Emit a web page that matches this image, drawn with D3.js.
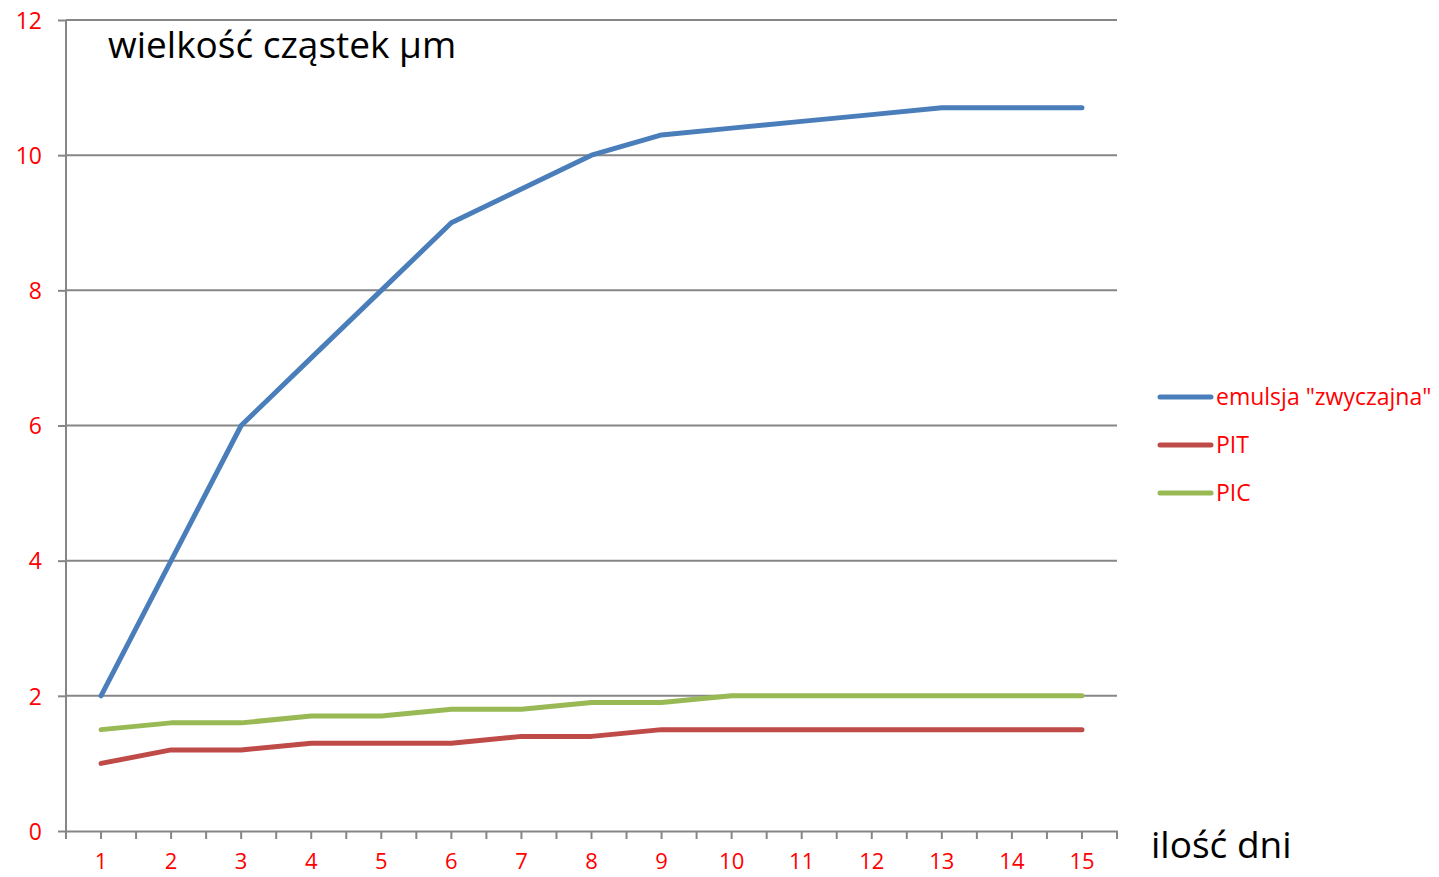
<!DOCTYPE html>
<html><head><meta charset="utf-8">
<script src="https://cdn.jsdelivr.net/npm/d3@7/dist/d3.min.js"></script>
<style>
html,body{margin:0;padding:0;background:#fff;}
svg{display:block;font-family:"Open Sans","Noto Sans",sans-serif;}
</style></head>
<body>
<svg id="chart" width="1439" height="877"></svg>
<script>
const days = ["1","2","3","4","5","6","7","8","9","10","11","12","13","14","15"];
const emulsja = [2,4,6,7,8,9,9.5,10,10.3,10.4,10.5,10.6,10.7,10.7,10.7];
const pit = [1,1.2,1.2,1.3,1.3,1.3,1.4,1.4,1.5,1.5,1.5,1.5,1.5,1.5,1.5];
const pic = [1.5,1.6,1.6,1.7,1.7,1.8,1.8,1.9,1.9,2,2,2,2,2,2];
const yTicks = [0,2,4,6,8,10,12];
const seriesNames = ['emulsja "zwyczajna"', "PIT", "PIC"];
const seriesColors = ["#4A7EBB", "#BE4B48", "#98B954"];
const yTitle = "wielkość cząstek µm";
const xTitle = "ilość dni";

const series = [emulsja, pit, pic].map((v,i)=>({name:seriesNames[i], color:seriesColors[i], values:v}));

const svg = d3.select("#chart");
const L=66, R=1117, T=20, B=831;
const x = d3.scaleBand().domain(days).range([L,R]).padding(0);
const y = d3.scaleLinear().domain([0,12]).range([B,T]);
const grid="#868686";

// y axis ticks + labels
const yAxis = d3.axisLeft(y).tickValues(yTicks).tickSize(L-58).tickFormat(d3.format("d"));
const gy = svg.append("g").attr("transform",`translate(${L},0)`).call(yAxis);
gy.select(".domain").remove();
gy.selectAll(".tick line").attr("stroke",grid).attr("stroke-width",2);
gy.selectAll(".tick text").attr("fill","#ff0000").attr("font-size",23).attr("font-family","Open Sans, sans-serif").attr("x",-24).attr("dy","0.36em");
// gridlines
svg.append("g").selectAll("line").data(yTicks.filter(d=>d>0)).join("line")
  .attr("x1",L).attr("x2",R).attr("y1",d=>y(d)).attr("y2",d=>y(d))
  .attr("stroke",grid).attr("stroke-width",2);
// y axis line
svg.append("line").attr("x1",L).attr("x2",L).attr("y1",T).attr("y2",B+7).attr("stroke",grid).attr("stroke-width",2);

// x axis
const gx = svg.append("g").attr("transform",`translate(0,${B})`).call(d3.axisBottom(x).tickSize(0).tickPadding(22));
gx.select(".domain").attr("stroke",grid).attr("stroke-width",2);
gx.selectAll(".tick text").attr("fill","#ff0000").attr("font-size",22).attr("font-family","Open Sans, sans-serif");
const bw = x.bandwidth();
const tickPos = [];
days.forEach(d=>{tickPos.push(x(d)); tickPos.push(x(d)+bw/2);});
tickPos.push(R);
svg.append("g").selectAll("line").data(tickPos).join("line")
  .attr("x1",d=>d).attr("x2",d=>d).attr("y1",B).attr("y2",B+8)
  .attr("stroke",grid).attr("stroke-width",2);

// lines
const line = d3.line().x((d,i)=>x(days[i])+bw/2).y(d=>y(d));
svg.append("g").selectAll("path").data(series).join("path")
  .attr("d",d=>line(d.values)).attr("fill","none").attr("stroke",d=>d.color)
  .attr("stroke-width",5).attr("stroke-linecap","round").attr("stroke-linejoin","round");

// titles
svg.append("text").attr("x",108).attr("y",58).attr("font-size",37).attr("fill","#000").text(yTitle);
svg.append("text").attr("x",1151).attr("y",858).attr("font-size",37).attr("fill","#000").text(xTitle);

// legend
const lg = svg.append("g").selectAll("g").data(series).join("g")
  .attr("transform",(d,i)=>`translate(1160,${397+i*48})`);
lg.append("line").attr("x1",0).attr("x2",51).attr("stroke",d=>d.color).attr("stroke-width",5).attr("stroke-linecap","round");
lg.append("text").attr("x",56).attr("dy","0.35em").attr("font-size",23).attr("fill","#ff0000").text(d=>d.name);
</script>
</body></html>
